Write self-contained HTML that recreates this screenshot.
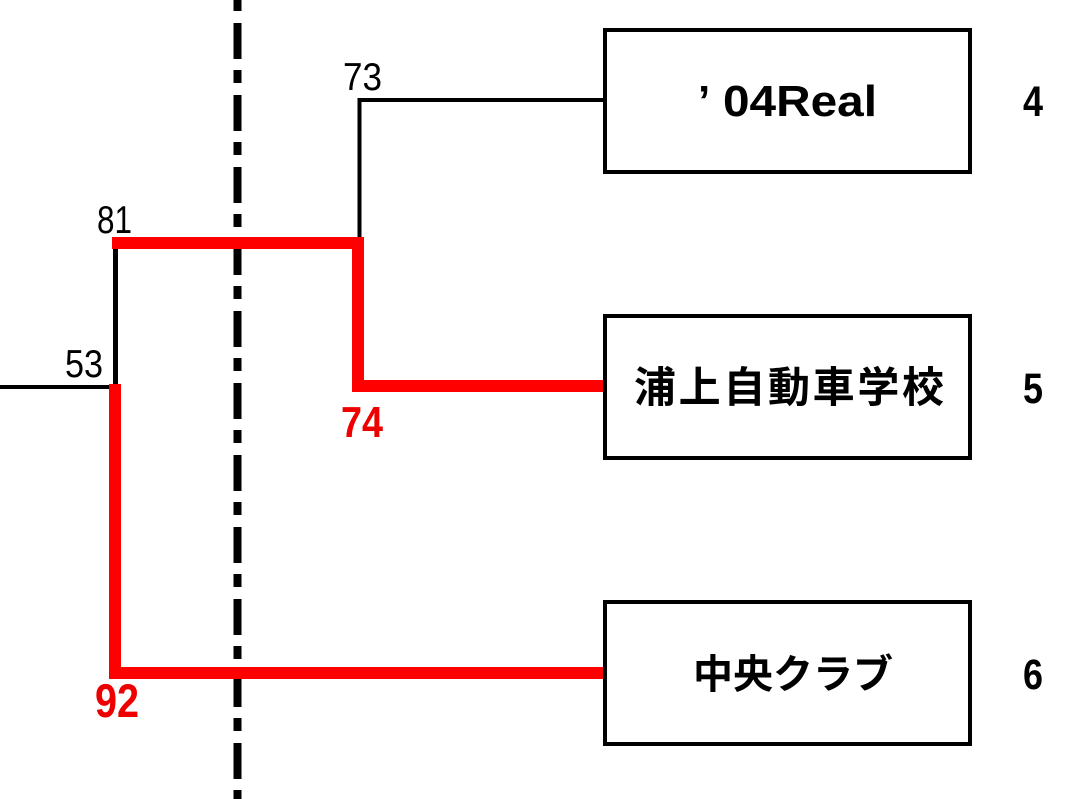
<!DOCTYPE html>
<html>
<head>
<meta charset="utf-8">
<style>
html,body{margin:0;padding:0;background:#fff;}
svg{display:block;}
</style>
</head>
<body>
<svg width="1080" height="799" viewBox="0 0 1080 799" xmlns="http://www.w3.org/2000/svg">
  <rect x="0" y="0" width="1080" height="799" fill="#fff"/>
  <!-- dash-dot vertical line -->
  <line x1="237.5" y1="0" x2="237.5" y2="799" stroke="#000" stroke-width="8" stroke-dasharray="36 11 13 12" stroke-dashoffset="49"/>

  <!-- black connectors -->
  <polyline points="604,100 359.5,100 359.5,240" fill="none" stroke="#000" stroke-width="4"/>
  <line x1="115.5" y1="245" x2="115.5" y2="387" stroke="#000" stroke-width="5"/>
  <line x1="0" y1="387" x2="116" y2="387" stroke="#000" stroke-width="4"/>

  <!-- red path upper -->
  <polyline points="112,243 358,243 358,386 605,386" fill="none" stroke="#f00" stroke-width="12" stroke-linejoin="miter" stroke-linecap="butt"/>
  <!-- red path lower -->
  <polyline points="115,384 115,673 605,673" fill="none" stroke="#f00" stroke-width="12" stroke-linejoin="miter" stroke-linecap="butt"/>

  <!-- boxes -->
  <rect x="605" y="30" width="365" height="142" fill="#fff" stroke="#000" stroke-width="4"/>
  <rect x="605" y="316" width="365" height="142" fill="#fff" stroke="#000" stroke-width="4"/>
  <rect x="605" y="602" width="365" height="142" fill="#fff" stroke="#000" stroke-width="4"/>

  <!-- box labels -->
  <text x="698" y="116" font-family="'Liberation Sans', sans-serif" font-weight="bold" font-size="44" fill="#000">’</text>
  <text x="723" y="116" font-family="'Liberation Sans', sans-serif" font-weight="bold" font-size="44" fill="#000" textLength="154" lengthAdjust="spacingAndGlyphs">04Real</text>
  <text x="634" y="402" font-family="'Liberation Sans','Noto Sans CJK JP',sans-serif" font-weight="bold" font-size="42" fill="#000" textLength="310" lengthAdjust="spacing">浦上自動車学校</text>
  <text x="693" y="688" font-family="'Liberation Sans','Noto Sans CJK JP',sans-serif" font-weight="bold" font-size="40" fill="#000">中央クラブ</text>

  <!-- right numbers -->
  <text x="1023" y="116" font-family="'Liberation Sans', sans-serif" font-weight="bold" font-size="43" fill="#000" textLength="20" lengthAdjust="spacingAndGlyphs">4</text>
  <text x="1023" y="403" font-family="'Liberation Sans', sans-serif" font-weight="bold" font-size="43" fill="#000" textLength="20" lengthAdjust="spacingAndGlyphs">5</text>
  <text x="1023" y="689" font-family="'Liberation Sans', sans-serif" font-weight="bold" font-size="43" fill="#000" textLength="20" lengthAdjust="spacingAndGlyphs">6</text>

  <!-- score labels -->
  <text x="343" y="90" font-family="'Liberation Sans', sans-serif" font-size="39" fill="#000" textLength="39" lengthAdjust="spacingAndGlyphs">73</text>
  <text x="97" y="233" font-family="'Liberation Sans', sans-serif" font-size="39" fill="#000" textLength="35" lengthAdjust="spacingAndGlyphs">81</text>
  <text x="65" y="377" font-family="'Liberation Sans', sans-serif" font-size="39" fill="#000" textLength="38" lengthAdjust="spacingAndGlyphs">53</text>
  <text x="341" y="437" font-family="'Liberation Sans', sans-serif" font-weight="bold" font-size="44" fill="#e00" textLength="42" lengthAdjust="spacingAndGlyphs">74</text>
  <text x="95" y="717" font-family="'Liberation Sans', sans-serif" font-weight="bold" font-size="47" fill="#e00" textLength="44" lengthAdjust="spacingAndGlyphs">92</text>
</svg>
</body>
</html>
